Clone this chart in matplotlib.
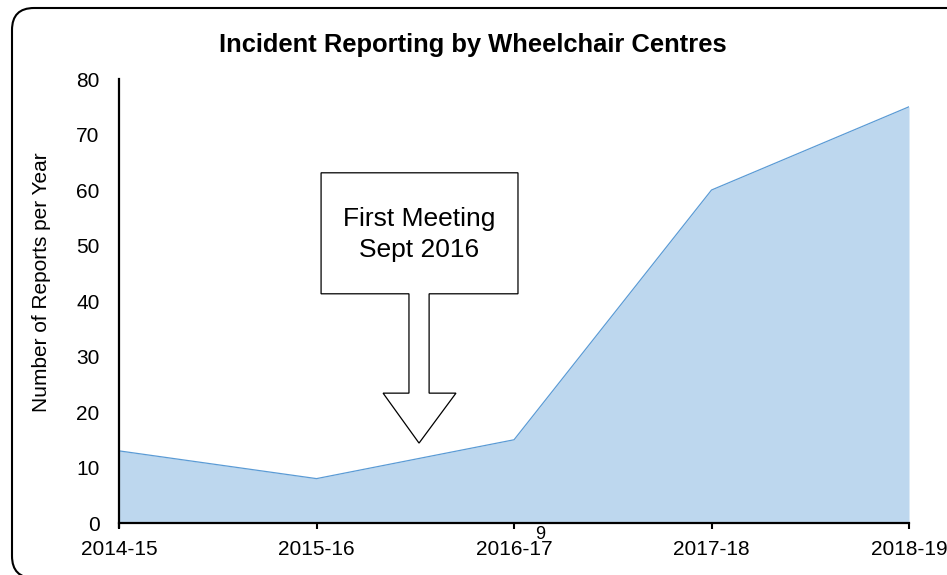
import matplotlib
matplotlib.use("Agg")
import matplotlib.pyplot as plt
from matplotlib.patches import FancyBboxPatch, Polygon

plt.rcParams["font.family"] = ["Liberation Sans", "DejaVu Sans"]

years = ["2014-15", "2015-16", "2016-17", "2017-18", "2018-19"]
reports = [13, 8, 15, 60, 75]
yticks = [0, 10, 20, 30, 40, 50, 60, 70, 80]

fig = plt.figure(figsize=(9.47, 5.75), dpi=100)
ax = fig.add_axes([0.1257, 0.0904, 0.8342, 0.7722])

x = list(range(len(years)))
ax.fill_between(x, reports, 0, color="#BDD7EE", linewidth=0)
ax.plot(x, reports, color="#5B9BD5", linewidth=0.9)

ax.set_xlim(0, len(years) - 1)
ax.set_ylim(0, 80)
ax.set_xticks(x)
ax.set_xticklabels(years, fontsize=15)
ax.set_yticks(yticks)
ax.set_yticklabels([str(v) for v in yticks], fontsize=15)
ax.tick_params(axis="y", length=0, pad=14)
ax.tick_params(axis="x", length=4, width=1.5, pad=8)
for s in ["top", "right"]:
    ax.spines[s].set_visible(False)
for s in ["left", "bottom"]:
    ax.spines[s].set_linewidth(1.6)
ax.spines["left"].set_bounds(-0.8, 80)
ax.spines["left"].set_clip_on(False)

# callout: box with down arrow
box = [(1.023, 63.1), (2.020, 63.1), (2.020, 41.3), (1.570, 41.3), (1.570, 23.4),
       (1.706, 23.4), (1.519, 14.4), (1.337, 23.4), (1.468, 23.4), (1.468, 41.3),
       (1.023, 41.3)]
ax.add_patch(Polygon(box, closed=True, facecolor="white", edgecolor="black",
                     linewidth=0.9, clip_on=False, zorder=5))
ax.text(1.519, 52.0, "First Meeting\nSept 2016", ha="center", va="center",
        fontsize=19, linespacing=1.38, zorder=6)

fig.text(0.4995, 0.921, "Incident Reporting by Wheelchair Centres",
         ha="center", va="center", fontsize=18.4, fontweight="bold")
fig.text(0.0433, 0.51, "Number of Reports per Year", rotation=90,
         ha="center", va="center", fontsize=15)
fig.text(0.570, 0.070, "9", ha="center", va="center", fontsize=13)

# rounded border of the chart area (runs off the right and bottom edges)
border = FancyBboxPatch((0.12, -0.03), 10.0, 5.70,
                        boxstyle="round,pad=0,rounding_size=0.22",
                        transform=fig.dpi_scale_trans, facecolor="none",
                        edgecolor="black", linewidth=1.5)
fig.patches.append(border)

fig.savefig("out.png", dpi=100)
